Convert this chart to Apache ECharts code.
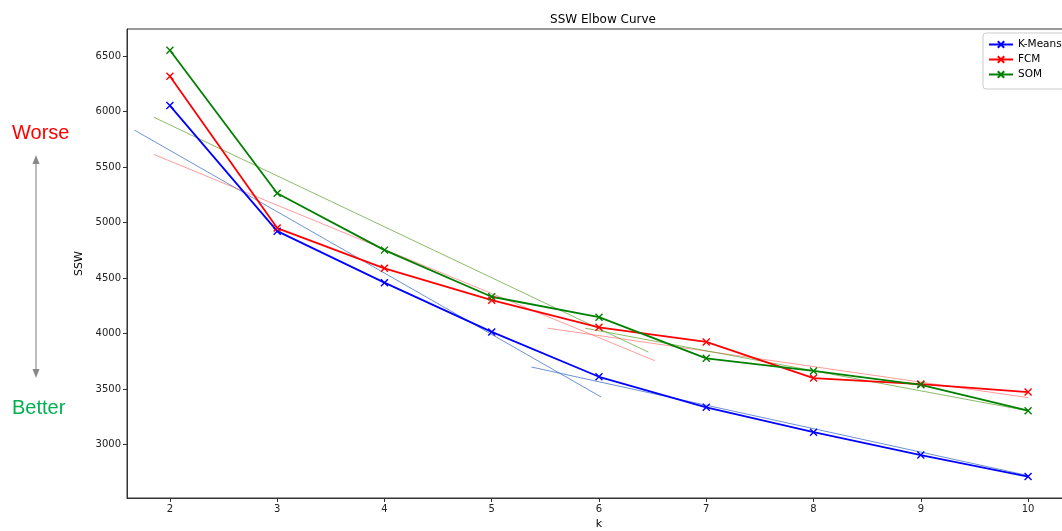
<!DOCTYPE html>
<html><head><meta charset="utf-8">
<script src="https://cdn.jsdelivr.net/npm/echarts@6/dist/echarts.min.js"></script>
<style>html,body{margin:0;padding:0;background:#fff}#c{width:1062px;height:531px}</style>
</head><body><div id="c"></div>
<script>
const ks = [2, 3, 4, 5, 6, 7, 8, 9, 10];
const kmeans = [6055, 4924, 4460, 4016, 3612, 3337, 3113, 2907, 2713];
const fcm    = [6320, 4952, 4589, 4302, 4058, 3926, 3600, 3546, 3474];
const som    = [6553, 5265, 4753, 4333, 4149, 3778, 3665, 3540, 3307];
// two-segment fitted lines per method: [[k,ssw],[k,ssw]]
const kmeansFit1 = [[1.67, 5834], [6.02, 3430]];
const kmeansFit2 = [[5.37, 3700], [10, 2722]];
const fcmFit1 = [[1.85, 5615], [6.52, 3757]];
const fcmFit2 = [[5.52, 4050], [10, 3424]];
const somFit1 = [[1.85, 5950], [6.46, 3834]];
const somFit2 = [[5.87, 4050], [10, 3305]];
const xTicks = [2, 3, 4, 5, 6, 7, 8, 9, 10];
const yTicks = [3000, 3500, 4000, 4500, 5000, 5500, 6000, 6500];

const font = 'DejaVu Sans';
const xSym = 'path://M0,0L10,10M10,0L0,10';
function mainSeries(name, color, vals) {
  return {
    name, type: 'line', data: ks.map((k, i) => [k, vals[i]]),
    symbol: xSym, symbolSize: 7, showSymbol: true,
    lineStyle: { color, width: 1.8 },
    itemStyle: { color: 'rgba(0,0,0,0)', borderColor: color, borderWidth: 1.4 },
    emphasis: { disabled: true }, z: 3, animation: false
  };
}
function fitSeries(color, pts) {
  return {
    type: 'line', data: pts, symbol: 'none',
    lineStyle: { color, width: 1 }, emphasis: { disabled: true }, z: 2,
    animation: false, legendHoverLink: false
  };
}
const chart = echarts.init(document.getElementById('c'), null, { renderer: 'canvas' });
chart.setOption({
  animation: false,
  backgroundColor: '#fff',
  title: {
    text: 'SSW Elbow Curve', left: 598, top: 9, textAlign: 'center',
    textStyle: { fontFamily: font, fontSize: 12, fontWeight: 'normal', color: '#000' }
  },
  legend: {
    orient: 'vertical', left: 983, top: 33, itemWidth: 24, itemHeight: 8, itemGap: 4,
    padding: [6, 8, 9, 5], borderColor: '#ccc', borderWidth: 1, borderRadius: 3,
    backgroundColor: 'rgba(255,255,255,0.8)',
    textStyle: { fontFamily: font, fontSize: 10.5, color: '#000' },
    data: ['K-Means', 'FCM', 'SOM']
  },
  grid: { left: 127, top: 29, right: -9, bottom: 33, show: true, borderColor: '#333', borderWidth: 1,
          containLabel: false, outerBoundsMode: 'none' },
  xAxis: {
    type: 'value', min: 1.6, max: 10.4, name: 'k', nameLocation: 'middle', nameGap: 21,
    nameTextStyle: { fontFamily: font, fontSize: 11, color: '#000' },
    axisLine: { show: true, lineStyle: { color: '#333' } },
    axisTick: { show: true, customValues: xTicks, length: 4, lineStyle: { color: '#333' } },
    axisLabel: { customValues: xTicks, fontFamily: font, fontSize: 10, color: '#222', margin: 6 },
    splitLine: { show: false }
  },
  yAxis: {
    type: 'value', min: 2520, max: 6745, name: 'SSW', nameLocation: 'middle', nameGap: 37,
    nameTextStyle: { fontFamily: font, fontSize: 11, color: '#000' },
    axisLine: { show: true, lineStyle: { color: '#333' } },
    axisTick: { show: true, customValues: yTicks, length: 4, lineStyle: { color: '#333' } },
    axisLabel: { customValues: yTicks, formatter: v => String(v), fontFamily: font, fontSize: 10, color: '#222', margin: 6 },
    splitLine: { show: false }
  },
  series: [
    mainSeries('K-Means', '#0000ff', kmeans),
    mainSeries('FCM', '#ff0000', fcm),
    mainSeries('SOM', '#008000', som),
    fitSeries('rgba(60,110,200,0.75)', kmeansFit1),
    fitSeries('rgba(60,110,200,0.75)', kmeansFit2),
    fitSeries('rgba(255,90,90,0.6)', fcmFit1),
    fitSeries('rgba(255,90,90,0.6)', fcmFit2),
    fitSeries('rgba(90,160,40,0.7)', somFit1),
    fitSeries('rgba(90,160,40,0.7)', somFit2)
  ],
  graphic: [
    { type: 'text', left: 12, top: 123, style: { text: 'Worse', fill: '#ff0000', fontSize: 20, fontFamily: 'Liberation Sans' } },
    { type: 'text', left: 12, top: 398, style: { text: 'Better', fill: '#00b050', fontSize: 20, fontFamily: 'Liberation Sans' } },
    { type: 'line', shape: { x1: 36, y1: 162, x2: 36, y2: 371 }, style: { stroke: '#999', lineWidth: 1.3 } },
    { type: 'polygon', shape: { points: [[36, 155], [32.5, 164], [39.5, 164]] }, style: { fill: '#888' } },
    { type: 'polygon', shape: { points: [[36, 378], [32.5, 369], [39.5, 369]] }, style: { fill: '#888' } }
  ]
});
</script></body></html>
